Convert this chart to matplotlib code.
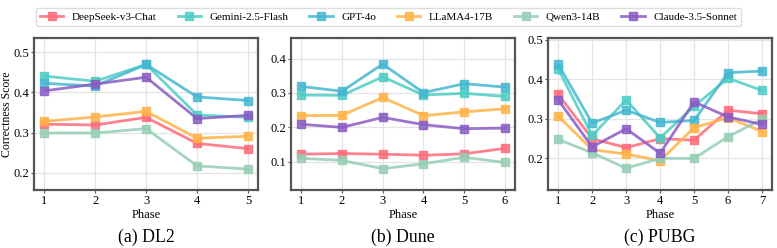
import matplotlib
matplotlib.use("Agg")
import matplotlib.pyplot as plt

plt.rcParams['font.family'] = ['Liberation Serif', 'DejaVu Serif']

models = ["DeepSeek-v3-Chat", "Gemini-2.5-Flash", "GPT-4o", "LLaMA4-17B", "Qwen3-14B", "Claude-3.5-Sonnet"]
colors = ["#FF6B7A", "#4ECDC4", "#45B7D1", "#FFB347", "#96CEB4", "#8A5CC4"]

dl2_phases = [1, 2, 3, 4, 5]
dl2 = {
    "DeepSeek-v3-Chat": [0.321, 0.319, 0.338, 0.273, 0.260],
    "Gemini-2.5-Flash": [0.441, 0.428, 0.470, 0.344, 0.338],
    "GPT-4o": [0.423, 0.416, 0.470, 0.389, 0.380],
    "LLaMA4-17B": [0.328, 0.339, 0.353, 0.286, 0.291],
    "Qwen3-14B": [0.299, 0.299, 0.310, 0.217, 0.209],
    "Claude-3.5-Sonnet": [0.404, 0.421, 0.438, 0.335, 0.343],
}

dune_phases = [1, 2, 3, 4, 5, 6]
dune = {
    "DeepSeek-v3-Chat": [0.122, 0.124, 0.122, 0.119, 0.123, 0.139],
    "Gemini-2.5-Flash": [0.294, 0.293, 0.347, 0.294, 0.299, 0.290],
    "GPT-4o": [0.319, 0.305, 0.384, 0.301, 0.327, 0.317],
    "LLaMA4-17B": [0.234, 0.235, 0.287, 0.234, 0.245, 0.254],
    "Qwen3-14B": [0.110, 0.104, 0.080, 0.094, 0.113, 0.098],
    "Claude-3.5-Sonnet": [0.209, 0.200, 0.229, 0.208, 0.196, 0.198],
}

pubg_phases = [1, 2, 3, 4, 5, 6, 7]
pubg = {
    "DeepSeek-v3-Chat": [0.362, 0.250, 0.227, 0.250, 0.246, 0.322, 0.313],
    "Gemini-2.5-Flash": [0.426, 0.258, 0.348, 0.252, 0.332, 0.403, 0.372],
    "GPT-4o": [0.438, 0.289, 0.322, 0.291, 0.296, 0.417, 0.421],
    "LLaMA4-17B": [0.307, 0.222, 0.211, 0.194, 0.278, 0.303, 0.268],
    "Qwen3-14B": [0.248, 0.214, 0.175, 0.200, 0.200, 0.255, 0.299],
    "Claude-3.5-Sonnet": [0.348, 0.229, 0.275, 0.213, 0.343, 0.305, 0.286],
}

panels = [
    ("(a) DL2", dl2_phases, dl2, (0.157, 0.536), [0.2, 0.3, 0.4, 0.5]),
    ("(b) Dune", dune_phases, dune, (0.018, 0.46), [0.1, 0.2, 0.3, 0.4]),
    ("(c) PUBG", pubg_phases, pubg, (0.12, 0.505), [0.2, 0.3, 0.4, 0.5]),
]

fig = plt.figure(figsize=(7.77, 2.48), dpi=100)
lefts = [0.0438, 0.3745, 0.7053]
width = 0.2885
bottom, height = 0.234, 0.613

handles = []
for i, (title, phases, data, ylim, yticks) in enumerate(panels):
    ax = fig.add_axes([lefts[i], bottom, width, height])
    for m, c in zip(models, colors):
        h, = ax.plot(phases, data[m], color=c, lw=2, alpha=0.85, marker='s', ms=6.3,
                     markeredgecolor=c, mew=1.0, label=m)
        h.set_markerfacecolor(matplotlib.colors.to_rgba(c, 0.55))
        if i == 0:
            handles.append(h)
    ax.set_ylim(*ylim)
    ax.set_yticks(yticks)
    ax.set_xticks(phases)
    ax.grid(True, color='#e4e4e4', lw=0.9)
    ax.set_axisbelow(True)
    for s in ax.spines.values():
        s.set_color('#555555')
        s.set_linewidth(1.6)
    ax.tick_params(labelsize=9, length=2, width=0.8, color='#555555', pad=1.5)
    ax.set_xlabel("Phase", fontsize=9, labelpad=1.5)
    if i == 0:
        ax.set_ylabel("Correctness Score", fontsize=8.5)
        ax.yaxis.set_label_coords(-0.093, 0.5)
    fig.text(lefts[i] + width / 2, 0.043, title, ha='center', va='center', fontsize=12.8)

fig.legend(handles=handles, loc='upper center', ncol=6, bbox_to_anchor=(0.5, 0.99),
           fontsize=8, frameon=True, fancybox=True, framealpha=1, edgecolor='#dddddd',
           handlelength=2.1, handletextpad=0.75, columnspacing=1.9, borderpad=0.35)

fig.savefig("out.png", dpi=100)
